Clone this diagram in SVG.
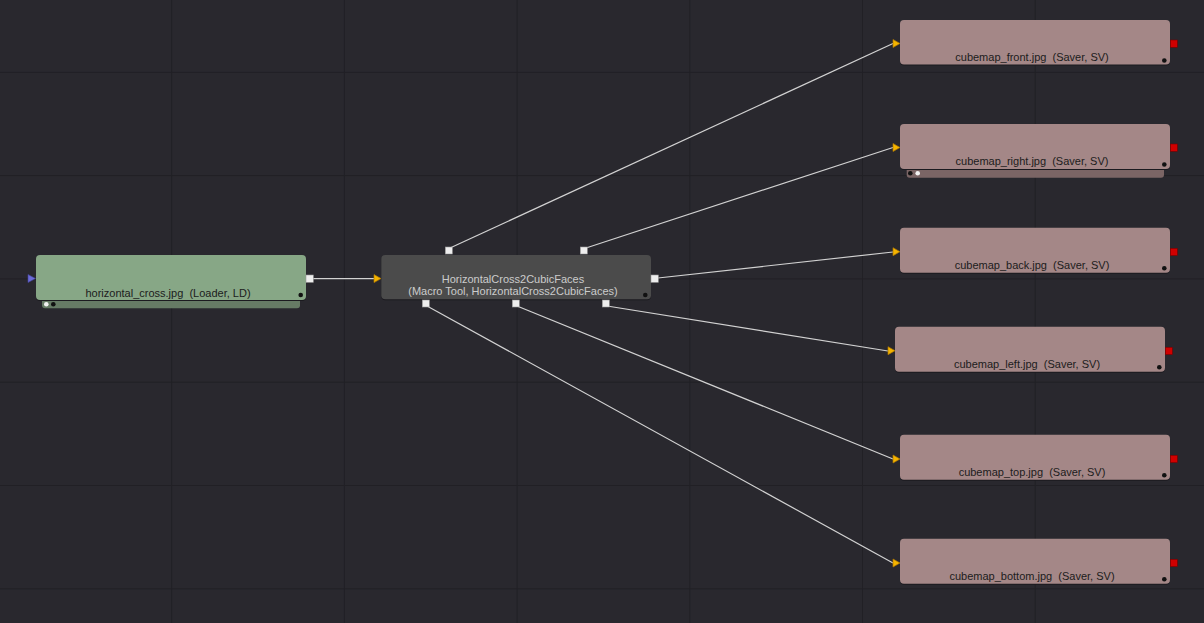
<svg xmlns="http://www.w3.org/2000/svg" width="1204" height="623" viewBox="0 0 1204 623">
<defs>
<style>
.grid{stroke:#212025;stroke-width:1}
.conn{stroke:#d2d2d2;stroke-width:1.2;fill:none}
.shadow{fill:#1b1a1f}
.saver{fill:#a48787}
.saverSub{fill:#7b6565}
.loader{fill:#87a786}
.loaderSub{fill:#667b65}
.macro{fill:#4b4b4b}
text{white-space:pre}
.lbl{font-family:"Liberation Sans",Arial,sans-serif;font-size:11px;fill:#1c1c1c;text-anchor:middle}
.mlbl{font-family:"Liberation Sans",Arial,sans-serif;font-size:11px;fill:#cbcbcb;text-anchor:middle}
.port{fill:#eeeeee;stroke:#9a9a9a;stroke-width:0.6}
.red{fill:#d00000;stroke:#7a0000;stroke-width:0.6}
.dot{fill:#111}
.wdot{fill:#f2f2f2}
.arr{fill:#f4b400;stroke:#b07800;stroke-width:0.7}
</style>
<polygon id="inArrow" points="-7,-4 0,0 -7,4" class="arr"/>
</defs>
<rect width="1204" height="623" fill="#29282e"/>
<g id="grid">
<line class="grid" x1="171.7" y1="0" x2="171.7" y2="623"/>
<line class="grid" x1="344.4" y1="0" x2="344.4" y2="623"/>
<line class="grid" x1="517.1" y1="0" x2="517.1" y2="623"/>
<line class="grid" x1="689.8" y1="0" x2="689.8" y2="623"/>
<line class="grid" x1="862.5" y1="0" x2="862.5" y2="623"/>
<line class="grid" x1="1035.2" y1="0" x2="1035.2" y2="623"/>
<line class="grid" x1="0" y1="72.4" x2="1204" y2="72.4"/>
<line class="grid" x1="0" y1="175.6" x2="1204" y2="175.6"/>
<line class="grid" x1="0" y1="278.9" x2="1204" y2="278.9"/>
<line class="grid" x1="0" y1="382.2" x2="1204" y2="382.2"/>
<line class="grid" x1="0" y1="485.5" x2="1204" y2="485.5"/>
<line class="grid" x1="0" y1="588.8" x2="1204" y2="588.8"/>
</g>
<g id="connectors">
<line class="conn" x1="313" y1="278.6" x2="374" y2="278.6"/>
<line class="conn" x1="450" y1="248" x2="893" y2="43.5"/>
<line class="conn" x1="586" y1="248" x2="893" y2="147.5"/>
<line class="conn" x1="658" y1="278" x2="893" y2="252"/>
<line class="conn" x1="607" y1="306" x2="888" y2="351"/>
<line class="conn" x1="517" y1="306" x2="893" y2="459"/>
<line class="conn" x1="427" y1="306" x2="893" y2="563"/>
</g>
<g id="loader">
<rect class="loaderSub" x="42" y="295" width="258" height="13.3" rx="3"/>
<rect class="shadow" x="36" y="256" width="270" height="45" rx="4"/>
<rect class="loader" x="36" y="255" width="270" height="45" rx="4"/>
<circle class="wdot" cx="46.3" cy="304.3" r="2.3"/>
<circle class="dot" cx="53.3" cy="304.3" r="2.3"/>
<circle class="dot" cx="300.7" cy="295" r="2.3"/>
<polygon points="28,274.5 35.5,278.5 28,282.5" fill="#6c6cd8" stroke="#4545a0" stroke-width="0.6"/>
<rect class="port" x="306" y="275" width="7.3" height="7.3"/>
<text class="lbl" x="168" y="296.6" xml:space="preserve">horizontal_cross.jpg  (Loader, LD)</text>
</g>
<g id="macro">
<rect class="shadow" x="381.3" y="256" width="269.7" height="44.3" rx="4"/>
<rect class="macro" x="381.3" y="255" width="269.7" height="44.3" rx="4"/>
<circle class="dot" cx="645.3" cy="295" r="2.3"/>
<use href="#inArrow" x="381" y="278.6"/>
<rect class="port" x="445.3" y="247" width="7" height="7"/>
<rect class="port" x="580.3" y="247" width="7" height="7"/>
<rect class="port" x="651" y="275" width="7.3" height="7.3"/>
<rect class="port" x="422.3" y="300" width="7" height="7"/>
<rect class="port" x="512.3" y="300" width="7" height="7"/>
<rect class="port" x="602.3" y="300" width="7" height="7"/>
<text class="mlbl" x="513" y="282.7">HorizontalCross2CubicFaces</text>
<text class="mlbl" x="513" y="295.2">(Macro Tool, HorizontalCross2CubicFaces)</text>
</g>
<g id="saver_front">
<rect class="shadow" x="900" y="21" width="270" height="44.5" rx="4"/>
<rect class="saver" x="900" y="20" width="270" height="44.5" rx="4"/>
<circle class="dot" cx="1164.3" cy="60.5" r="2.3"/>
<use href="#inArrow" x="900" y="43.5"/>
<rect class="red" x="1170.3" y="40" width="7" height="7.3"/>
<text class="lbl" x="1032" y="61" xml:space="preserve">cubemap_front.jpg  (Saver, SV)</text>
</g>
<g id="saver_right">
<rect class="saverSub" x="906.7" y="164" width="257.3" height="13.7" rx="3"/>
<rect class="shadow" x="900" y="125" width="270" height="45" rx="4"/>
<rect class="saver" x="900" y="124" width="270" height="45" rx="4"/>
<circle class="dot" cx="910.3" cy="173.3" r="2.3"/>
<circle class="wdot" cx="917.7" cy="173.3" r="2.3"/>
<circle class="dot" cx="1164.3" cy="164.5" r="2.3"/>
<use href="#inArrow" x="900" y="147.5"/>
<rect class="red" x="1170.3" y="144" width="7" height="7.3"/>
<text class="lbl" x="1032" y="165" xml:space="preserve">cubemap_right.jpg  (Saver, SV)</text>
</g>
<g id="saver_back">
<rect class="shadow" x="900" y="228.7" width="270" height="45" rx="4"/>
<rect class="saver" x="900" y="227.7" width="270" height="45" rx="4"/>
<circle class="dot" cx="1164.3" cy="268.3" r="2.3"/>
<use href="#inArrow" x="900" y="251.7"/>
<rect class="red" x="1170.3" y="248.3" width="7" height="7.3"/>
<text class="lbl" x="1032" y="268.8" xml:space="preserve">cubemap_back.jpg  (Saver, SV)</text>
</g>
<g id="saver_left">
<rect class="shadow" x="895" y="327.7" width="270" height="45" rx="4"/>
<rect class="saver" x="895" y="326.7" width="270" height="45" rx="4"/>
<circle class="dot" cx="1159.3" cy="367.3" r="2.3"/>
<use href="#inArrow" x="895" y="350.7"/>
<rect class="red" x="1165.3" y="347.3" width="7" height="7.3"/>
<text class="lbl" x="1027" y="367.8" xml:space="preserve">cubemap_left.jpg  (Saver, SV)</text>
</g>
<g id="saver_top">
<rect class="shadow" x="900" y="435.7" width="270" height="45" rx="4"/>
<rect class="saver" x="900" y="434.7" width="270" height="45" rx="4"/>
<circle class="dot" cx="1164.3" cy="475.3" r="2.3"/>
<use href="#inArrow" x="900" y="459"/>
<rect class="red" x="1170.3" y="455.3" width="7" height="7.3"/>
<text class="lbl" x="1032" y="475.8" xml:space="preserve">cubemap_top.jpg  (Saver, SV)</text>
</g>
<g id="saver_bottom">
<rect class="shadow" x="900" y="539.7" width="270" height="45" rx="4"/>
<rect class="saver" x="900" y="538.7" width="270" height="45" rx="4"/>
<circle class="dot" cx="1164.3" cy="579.3" r="2.3"/>
<use href="#inArrow" x="900" y="563"/>
<rect class="red" x="1170.3" y="559.3" width="7" height="7.3"/>
<text class="lbl" x="1032" y="579.8" xml:space="preserve">cubemap_bottom.jpg  (Saver, SV)</text>
</g>
</svg>
